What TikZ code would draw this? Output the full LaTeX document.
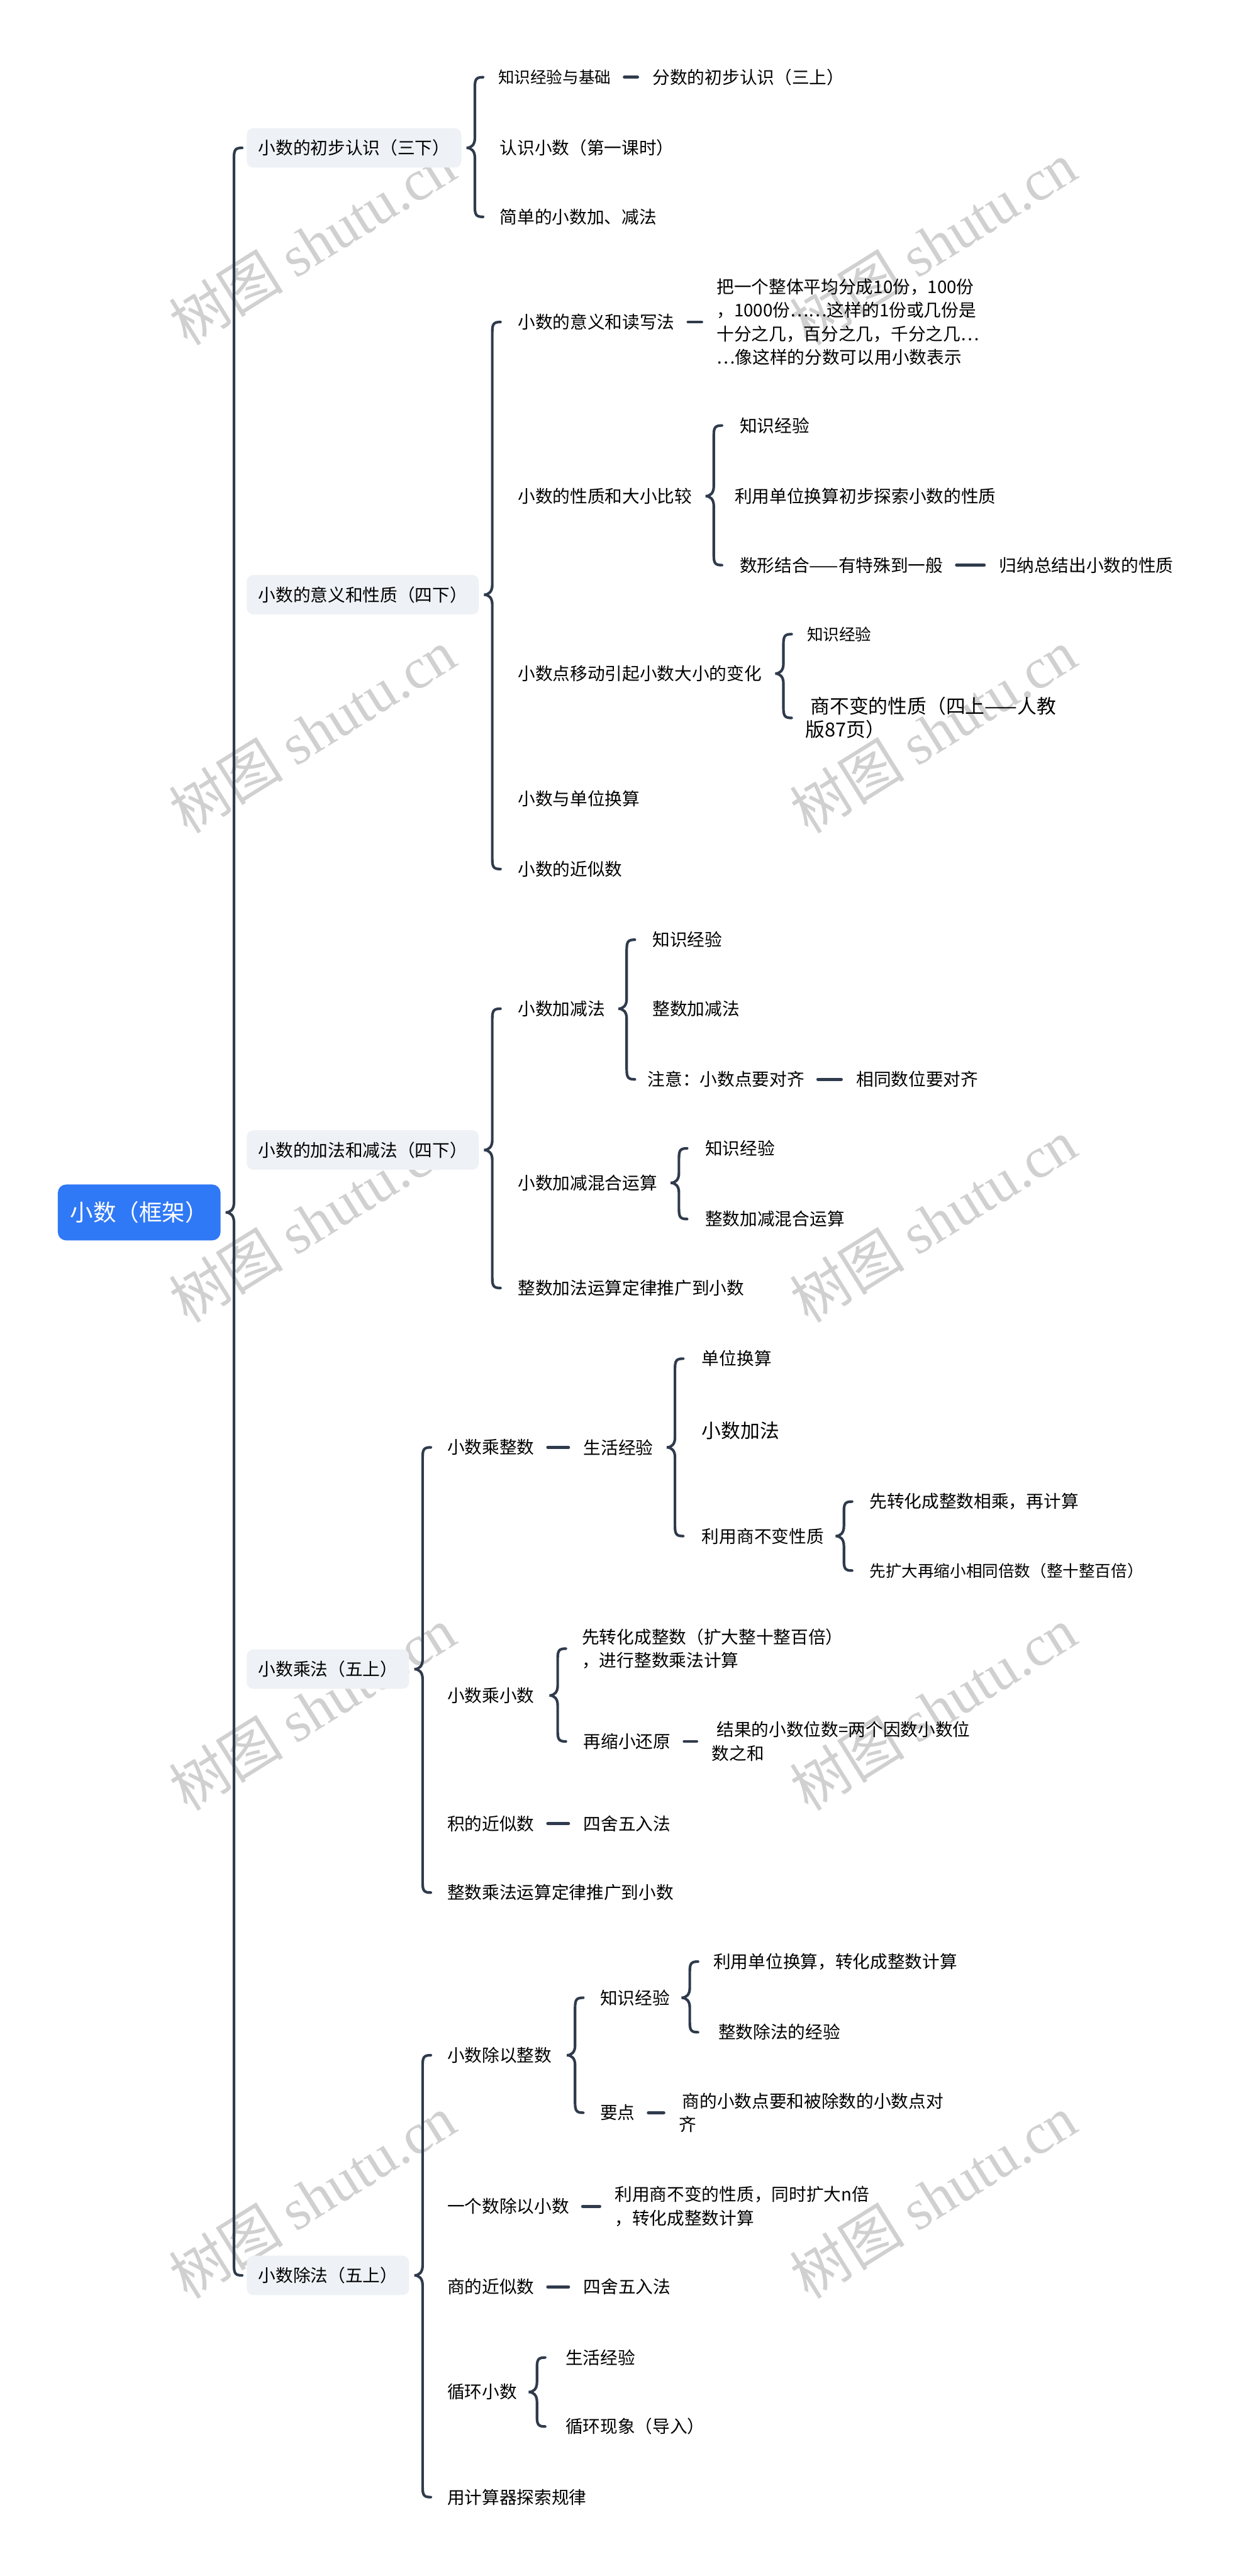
\documentclass[tikz,border=0pt]{standalone}
\usepackage{fontspec}
\setmainfont{Noto Sans CJK SC}
\newfontfamily\wmcjk{Noto Sans CJK SC}
\newfontfamily\wmlat{Liberation Serif}
\usetikzlibrary{calc}
\definecolor{linkc}{HTML}{2F3B4C}
\definecolor{boxc}{HTML}{EEF1F5}
\definecolor{rootc}{HTML}{3079F6}
\definecolor{wmc}{HTML}{D0D0D0}
\tikzset{
 link/.style={draw=linkc, line width=1.6pt, line cap=round},
 txt/.style={anchor=west, inner sep=0pt, font=\fontsize{10.6}{14.3}\selectfont, align=left, text=black},
 sml/.style={txt, font=\fontsize{9.8}{13}\selectfont},
 big/.style={txt, font=\fontsize{11.8}{14}\selectfont},
 lvl/.style={anchor=west, fill=boxc, rounded corners=4pt, inner xsep=7pt, inner ysep=0pt, minimum height=24pt, text=black, font=\fontsize{10.6}{13}\selectfont},
 rootn/.style={anchor=west, fill=rootc, rounded corners=5pt, inner xsep=7.5pt, inner ysep=0pt, minimum height=34pt, text=white, font=\fontsize{14}{16}\selectfont},
 wm/.style={text=wmc, rotate=32, inner sep=0pt},
}
% brace: gap, parent, first child, last child
\newcommand{\brc}[4]{%
 \draw[link] let \p1=(#2.east), \p2=(#3.west), \p3=(#4.west), \p4=($(#2.east)+(#1pt,0pt)$) in
  (\x4+5pt,\y2) .. controls (\x4+1pt,\y2) and (\x4,\y2-1pt) .. (\x4,\y2-6pt)
  -- (\x4,\y1+6pt) .. controls (\x4,\y1+2pt) and (\x4-2pt,\y1) .. (\x4-5pt,\y1)
  .. controls (\x4-2pt,\y1) and (\x4,\y1-2pt) .. (\x4,\y1-6pt)
  -- (\x4,\y3+6pt) .. controls (\x4,\y3+1pt) and (\x4+1pt,\y3) .. (\x4+5pt,\y3);}
\newcommand{\dsh}[2]{%
 \draw[link, line width=1.9pt] let \p1=(#1.east), \p2=(#2.west) in (\x1+8pt,\y1) -- (\x2-9pt,\y1);}
\begin{document}
\begin{tikzpicture}[x=1pt,y=-1pt]
\useasboundingbox (0,0) rectangle (755,1568);
\fill[white] (0,0) rectangle (755,1568);
% watermarks
\foreach \wx/\wy [count=\i] in {190/148, 568/148, 190/445, 568/445, 190/743, 568/743, 190/1040, 568/1040, 190/1337, 568/1337}
  \node[wm] (wm\i) at (\wx,\wy) {\fontsize{35}{35}\selectfont\wmcjk 树图 \wmlat shutu.cn};

% root and level 1
\node[rootn] (R) at (35,738) {小数（框架）};
\node[lvl] (A) at (150,90) {小数的初步认识（三下）};
\node[lvl] (B) at (150,362) {小数的意义和性质（四下）};
\node[lvl] (C) at (150,700) {小数的加法和减法（四下）};
\node[lvl] (D) at (150,1016) {小数乘法（五上）};
\node[lvl] (E) at (150,1385) {小数除法（五上）};

% group A
\node[sml] (A1) at (303,47) {知识经验与基础};
\node[txt] (A1b) at (397,47) {分数的初步认识（三上）};
\node[txt] (A2) at (304,90) {认识小数（第一课时）};
\node[txt] (A3) at (304,132) {简单的小数加、减法};

% group B
\node[txt] (B1) at (315,196) {小数的意义和读写法};
\node[txt] (B1a) at (436,196) {把一个整体平均分成10份，100份\\，1000份……这样的1份或几份是\\十分之几，百分之几，千分之几…\\…像这样的分数可以用小数表示};
\node[txt] (B2) at (315,302) {小数的性质和大小比较};
\node[txt] (B2a) at (450,259) {知识经验};
\node[txt] (B2b) at (447,302) {利用单位换算初步探索小数的性质};
\node[txt] (B2c) at (450,344) {数形结合——有特殊到一般};
\node[txt] (B2d) at (608,344) {归纳总结出小数的性质};
\node[txt] (B3) at (315,410) {小数点移动引起小数大小的变化};
\node[sml] (B3a) at (491,386) {知识经验};
\node[big] (B3b) at (490,437) {\hspace*{3pt}商不变的性质（四上——人教\\版87页）};
\node[txt] (B4) at (315,486) {小数与单位换算};
\node[txt] (B5) at (315,529) {小数的近似数};

% group C
\node[txt] (C1) at (315,614) {小数加减法};
\node[txt] (C1a) at (397,572) {知识经验};
\node[txt] (C1b) at (397,614) {整数加减法};
\node[txt] (C1c) at (394,657) {注意：小数点要对齐};
\node[txt] (C1d) at (521,657) {相同数位要对齐};
\node[txt] (C2) at (315,720) {小数加减混合运算};
\node[txt] (C2a) at (429,699) {知识经验};
\node[txt] (C2b) at (429,742) {整数加减混合运算};
\node[txt] (C3) at (315,784) {整数加法运算定律推广到小数};

% group D
\node[txt] (D1) at (272,881) {小数乘整数};
\node[txt] (D1a) at (355,881) {生活经验};
\node[txt] (D1a1) at (427,827) {单位换算};
\node[big] (D1a2) at (427,871) {小数加法};
\node[txt] (D1a3) at (427,935) {利用商不变性质};
\node[txt] (D1a3a) at (529,914) {先转化成整数相乘，再计算};
\node[sml] (D1a3b) at (529,956) {先扩大再缩小相同倍数（整十整百倍）};
\node[txt] (D2) at (272,1032) {小数乘小数};
\node[txt] (D2a) at (354,1003.5) {先转化成整数（扩大整十整百倍）\\，进行整数乘法计算};
\node[txt] (D2b) at (355,1060) {再缩小还原};
\node[txt] (D2b1) at (433,1060) {\hspace*{3pt}结果的小数位数=两个因数小数位\\数之和};
\node[txt] (D3) at (272,1110) {积的近似数};
\node[txt] (D3a) at (355,1110) {四舍五入法};
\node[txt] (D4) at (272,1152) {整数乘法运算定律推广到小数};

% group E
\node[txt] (E1) at (272,1251) {小数除以整数};
\node[txt] (E1a) at (365,1216) {知识经验};
\node[txt] (E1a1) at (434,1194) {利用单位换算，转化成整数计算};
\node[txt] (E1a2) at (437,1237) {整数除法的经验};
\node[txt] (E1b) at (365,1286) {要点};
\node[txt] (E1b1) at (413,1286) {\hspace*{2pt}商的小数点要和被除数的小数点对\\齐};
\node[txt] (E2) at (272,1343) {一个数除以小数};
\node[txt] (E2a) at (374,1343) {利用商不变的性质，同时扩大n倍\\，转化成整数计算};
\node[txt] (E3) at (272,1392) {商的近似数};
\node[txt] (E3a) at (355,1392) {四舍五入法};
\node[txt] (E4) at (272,1456) {循环小数};
\node[txt] (E4a) at (344,1435) {生活经验};
\node[txt] (E4b) at (344,1477) {循环现象（导入）};
\node[txt] (E5) at (272,1520) {用计算器探索规律};

% braces
\brc{8}{R}{A}{E}
\brc{8}{A}{A1}{A3}
\brc{8}{B}{B1}{B5}
\brc{13}{B2}{B2a}{B2c}
\brc{13}{B3}{B3a}{B3b}
\brc{8}{C}{C1}{C3}
\brc{13}{C1}{C1a}{C1c}
\brc{13}{C2}{C2a}{C2b}
\brc{8}{D}{D1}{D4}
\brc{13}{D1a}{D1a1}{D1a3}
\brc{12}{D1a3}{D1a3a}{D1a3b}
\brc{14}{D2}{D2a}{D2b}
\brc{8}{E}{E1}{E5}
\brc{14}{E1}{E1a}{E1b}
\brc{12}{E1a}{E1a1}{E1a2}
\brc{12}{E4}{E4a}{E4b}

% dashes
\dsh{A1}{A1b}
\dsh{B1}{B1a}
\dsh{B2c}{B2d}
\dsh{C1c}{C1d}
\dsh{D1}{D1a}
\dsh{D2b}{D2b1}
\dsh{D3}{D3a}
\dsh{E1b}{E1b1}
\dsh{E2}{E2a}
\dsh{E3}{E3a}
\end{tikzpicture}
\end{document}
